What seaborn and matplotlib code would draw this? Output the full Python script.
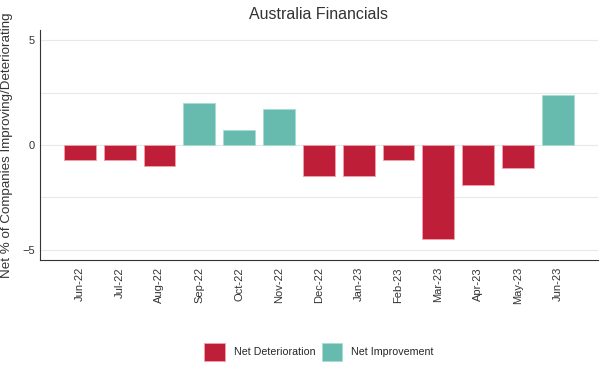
import pandas as pd
import matplotlib
matplotlib.use("Agg")
import matplotlib.pyplot as plt
import seaborn as sns

meses = ["Jun-22", "Jul-22", "Aug-22", "Sep-22", "Oct-22", "Nov-22", "Dec-22",
         "Jan-23", "Feb-23", "Mar-23", "Apr-23", "May-23", "Jun-23"]
valores = [-0.7, -0.7, -1.0, 2.0, 0.7, 1.7, -1.5, -1.5, -0.7, -4.5, -1.9, -1.1, 2.4]
series = ["Net Deterioration", "Net Improvement"]
cores = ["#BE1E37", "#66BBAE"]
bordas = ["#f3a0aa", "#a8dcd3"]

df = pd.DataFrame({"mes": meses, "valor": valores})
df["tipo"] = [series[1] if v > 0 else series[0] for v in valores]

sns.set_style("white")
plt.rcParams["font.family"] = ["Liberation Sans", "DejaVu Sans"]

fig, ax = plt.subplots(figsize=(6.05, 3.78), dpi=100)
fig.subplots_adjust(left=0.066, right=0.988, top=0.921, bottom=0.312)

sns.barplot(data=df, x="mes", y="valor", hue="tipo", hue_order=series,
            palette=dict(zip(series, cores)), dodge=False, width=0.8,
            saturation=1, edgecolor=bordas[0], linewidth=0.6, ax=ax)
# contorno mais claro das barras verdes
for p in ax.patches:
    if p.get_height() > 0:
        p.set_edgecolor(bordas[1])

#-------------eixos------------------------------
ax.set_ylim(-5.5, 5.5)
ax.set_xlim(-1, 13)
ax.set_yticks([-5, 0, 5])
ax.set_yticks([-2.5, 2.5], minor=True)
ax.yaxis.grid(True, which="both", color="#e8e8e8", linewidth=0.8)
ax.set_axisbelow(True)
ax.tick_params(axis="y", length=0, labelsize=8, colors="#333333")
ax.tick_params(axis="x", length=0, pad=5, labelsize=8, colors="#333333", rotation=90)
for s in ["top", "right"]:
    ax.spines[s].set_visible(False)
ax.spines["left"].set_color("#333333")
ax.spines["bottom"].set_color("#333333")
ax.set_xlabel("")
ax.set_ylabel("Net % of Companies Improving/Deteriorating", fontsize=9.6,
              color="#333333")
ax.yaxis.set_label_coords(-0.048, 0.5)
ax.set_title("Australia Financials", fontsize=11.5, color="#333333", pad=8)

#-------------legenda------------------------------
leg = ax.legend(loc="center", bbox_to_anchor=(0.5, -0.40), ncol=2, frameon=False,
                fontsize=7.7, handlelength=1.95, handleheight=2.3,
                columnspacing=0.6, handletextpad=0.8)
for h, b in zip(leg.legend_handles, bordas):
    h.set_edgecolor(b)

fig.savefig("out.png", dpi=100)
